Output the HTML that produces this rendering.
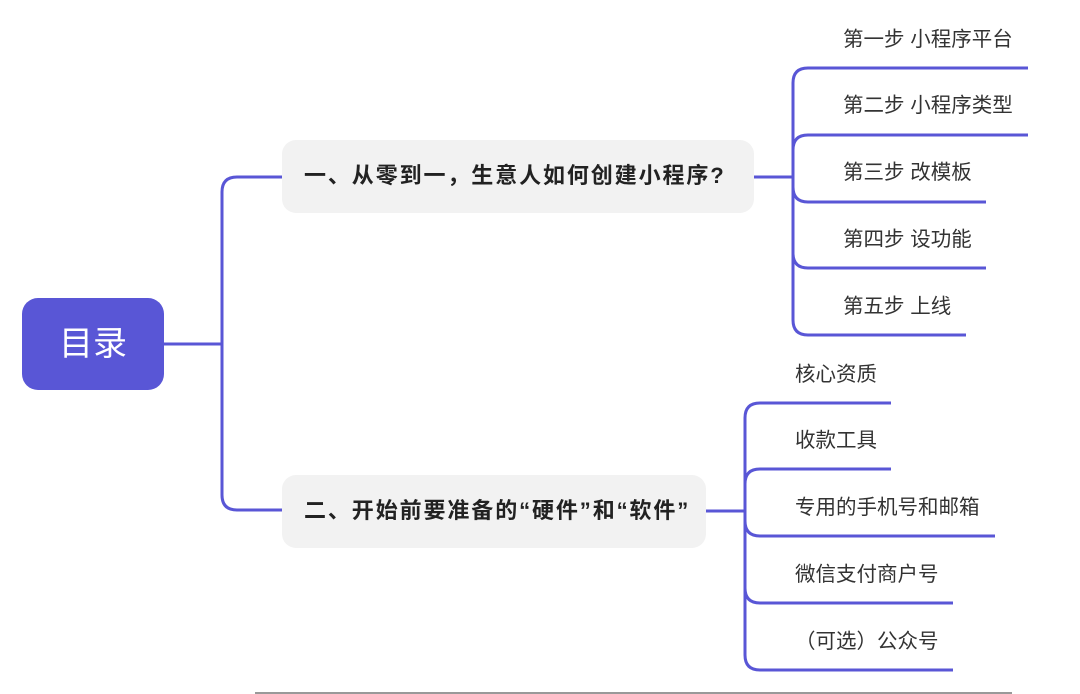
<!DOCTYPE html>
<html><head><meta charset="utf-8"><style>
html,body{margin:0;padding:0;background:#fff;}
body{width:1080px;height:694px;position:relative;overflow:hidden;font-family:"Liberation Sans","Noto Sans CJK SC",sans-serif;}
svg{position:absolute;left:0;top:0;}
.t{position:absolute;white-space:nowrap;color:#333;font-size:20.5px;line-height:24px;}
.n{position:absolute;background:#f2f2f2;border-radius:14px;font-weight:bold;font-size:22px;letter-spacing:1.9px;color:#222;box-sizing:border-box;padding-left:22px;line-height:71px;white-space:nowrap;}
</style></head><body>
<svg width="1080" height="694" fill="none" stroke="#5956d6" stroke-width="3">
<path d="M164,344 H222"/>
<path d="M282,177 H237 Q222,177 222,192 V495 Q222,510 237,510 H282"/>
<path d="M754,177 H793"/>
<path d="M793,177 V83 Q793,68 808,68 H1028"/>
<path d="M793,177 V150 Q793,135 808,135 H1028"/>
<path d="M793,177 V187 Q793,202 808,202 H986"/>
<path d="M793,177 V253 Q793,268 808,268 H986"/>
<path d="M793,177 V320 Q793,335 808,335 H966"/>
<path d="M706,511 H745"/>
<path d="M745,511 V418 Q745,403 760,403 H891"/>
<path d="M745,511 V484 Q745,469 760,469 H891"/>
<path d="M745,511 V521 Q745,536 760,536 H995"/>
<path d="M745,511 V588 Q745,603 760,603 H953"/>
<path d="M745,511 V655 Q745,670 760,670 H953"/>
<path d="M255,693 H1012" stroke="#999" stroke-width="2"/>
</svg>
<div style="position:absolute;left:22px;top:298px;width:142px;height:92px;background:#5956d6;border-radius:16px;color:#fff;font-size:34px;line-height:92px;text-align:center;">目录</div>
<div class="n" style="left:282px;top:140px;width:472px;height:73px;">一、从零到一，生意人如何创建小程序?</div>
<div class="n" style="left:282px;top:475px;width:424px;height:73px;">二、开始前要准备的“硬件”和“软件”</div>
<div class="t" style="left:843px;top:28px;">第一步 小程序平台</div>
<div class="t" style="left:843px;top:94px;">第二步 小程序类型</div>
<div class="t" style="left:843px;top:161px;">第三步 改模板</div>
<div class="t" style="left:843px;top:228px;">第四步 设功能</div>
<div class="t" style="left:843px;top:295px;">第五步 上线</div>
<div class="t" style="left:795px;top:363px;">核心资质</div>
<div class="t" style="left:795px;top:429px;">收款工具</div>
<div class="t" style="left:795px;top:496px;">专用的手机号和邮箱</div>
<div class="t" style="left:795px;top:563px;">微信支付商户号</div>
<div class="t" style="left:795px;top:630px;">（可选）公众号</div>
</body></html>
